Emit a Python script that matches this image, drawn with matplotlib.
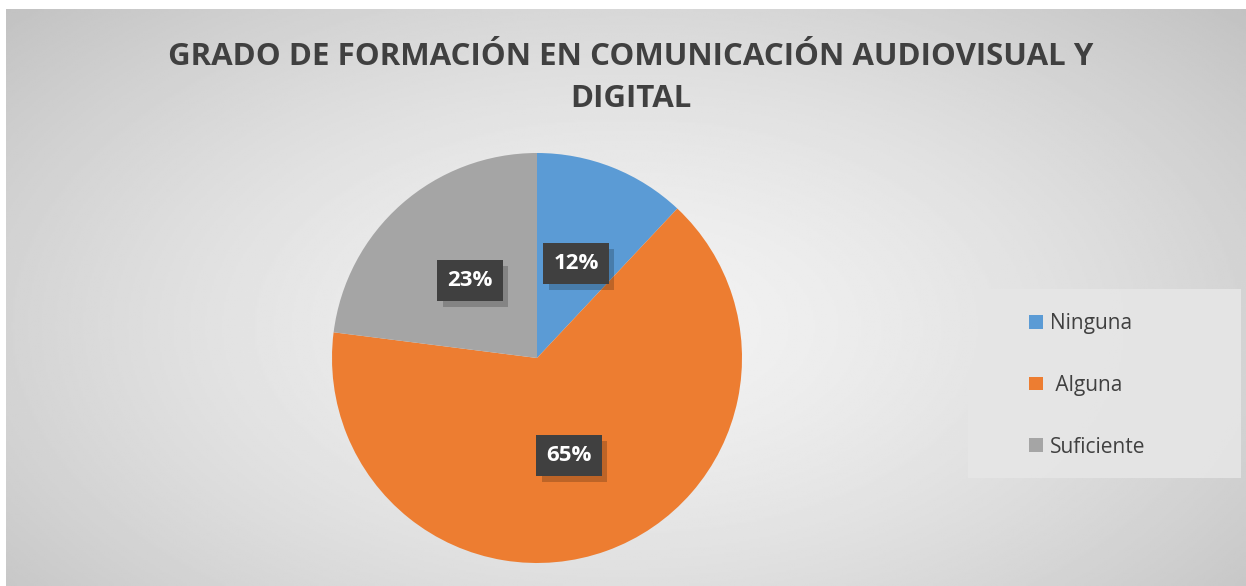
import numpy as np
import matplotlib
matplotlib.use('Agg')
import matplotlib.pyplot as plt
from matplotlib import patheffects as pe
from matplotlib.patches import Rectangle

categories = ['Ninguna', ' Alguna', 'Suficiente']
values = [12, 65, 23]
colors = ['#5b9bd5', '#ed7d31', '#a5a5a5']
title = 'GRADO DE FORMACIÓN EN COMUNICACIÓN AUDIOVISUAL Y\nDIGITAL'

plt.rcParams['font.family'] = ['Open Sans', 'DejaVu Sans']

W, H = 1246, 586
fig = plt.figure(figsize=(W / 100, H / 100), dpi=100)
fig.patch.set_facecolor('white')

# radial gradient background
bg = fig.add_axes([6 / W, 0, 1 - 6 / W, 1 - 9 / H])
bg.set_axis_off()
yy, xx = np.mgrid[0:1:300j, 0:1:600j]
d = np.sqrt(((xx - 0.5) / 0.75) ** 2 + ((yy - 0.55) / 0.9) ** 2)
shade = 0.95 - 0.22 * np.clip(d, 0, 1) ** 1.5
bg.imshow(shade, cmap='gray', vmin=0, vmax=1, aspect='auto', extent=[0, 1, 0, 1])

fig.text(631 / W, 1 - 78 / H, title, ha='center', va='center', fontsize=22.5,
         fontweight='bold', color='#404040', linespacing=1.5)

# pie
r = 205
cx, cy = 537, H - 358
ax = fig.add_axes([(cx - r) / W, (cy - r) / H, 2 * r / W, 2 * r / H])
wedges, _ = ax.pie(values, colors=colors, startangle=90, counterclock=False,
                   radius=1, wedgeprops=dict(linewidth=0))
ax.set_xlim(-1, 1)
ax.set_ylim(-1, 1)
ax.set_aspect('auto')

label_pos = [(0.19, 0.459), (0.156, -0.478), (-0.327, 0.376)]
for v, (lx, ly) in zip(values, label_pos):
    t = ax.text(lx, ly, f'{v}%', ha='center', va='center', fontsize=16,
                fontweight='bold', color='white',
                bbox=dict(boxstyle='square,pad=0.45', facecolor='#404040', edgecolor='none'))
    t.get_bbox_patch().set_path_effects([
        pe.SimplePatchShadow(offset=(4, -4), shadow_rgbFace='black', alpha=0.2),
        pe.Normal()])

# legend box
fig.patches.append(Rectangle((968 / W, 1 - 478 / H), (1241 - 968) / W, (478 - 289) / H,
                             transform=fig.transFigure, facecolor='#e6e6e6',
                             edgecolor='none', alpha=0.9, zorder=1))
leg = fig.legend(wedges, categories, loc='upper left',
                 bbox_to_anchor=(1029 / W, 1 - 313 / H), borderaxespad=0,
                 frameon=False, fontsize=15, handlelength=0.65, handleheight=0.65,
                 handletextpad=0.35, labelspacing=1.96, borderpad=0,
                 labelcolor='#404040')
for h in leg.legend_handles:
    h.set_linewidth(0)

fig.savefig('out.png', dpi=100)
